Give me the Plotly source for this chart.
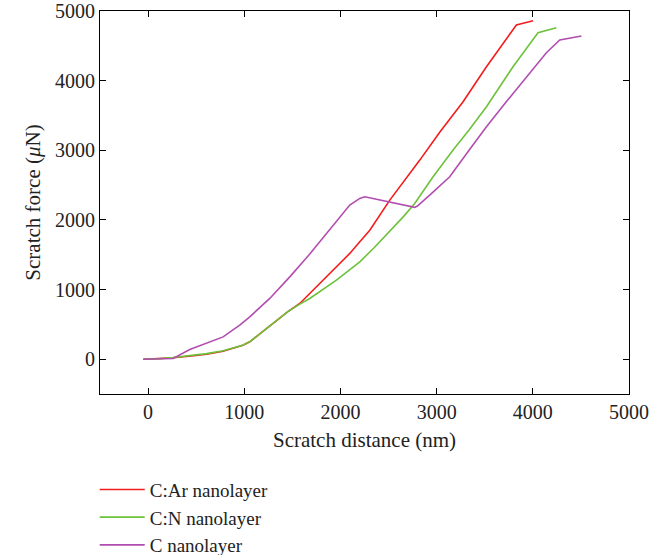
import plotly.graph_objects as go

# C:Ar nanolayer
ar_x = [-50, 100, 259, 450, 609, 780, 985, 1057, 1297, 1450, 1577, 1629, 1889, 2097, 2201, 2305, 2513, 2825, 3032, 3275, 3518, 3760, 3829, 3900, 4002]
ar_y = [0, 5, 20, 45, 72, 115, 201, 249, 517, 680, 800, 872, 1231, 1519, 1685, 1853, 2284, 2859, 3260, 3697, 4200, 4679, 4799, 4825, 4861]

# C:N nanolayer
cn_x = [-50, 100, 259, 450, 609, 780, 985, 1057, 1297, 1450, 1577, 1681, 1958, 2201, 2350, 2495, 2650, 2772, 2963, 3171, 3337, 3518, 3794, 4054, 4150, 4245]
cn_y = [0, 5, 25, 50, 80, 120, 201, 249, 517, 680, 790, 872, 1135, 1398, 1600, 1806, 2040, 2237, 2619, 3003, 3290, 3625, 4200, 4688, 4725, 4760]

# C nanolayer
c_x = [-50, 100, 260, 433, 641, 780, 953, 1057, 1265, 1473, 1681, 1889, 2097, 2201, 2253, 2772, 2800, 2928, 3136, 3337, 3518, 3726, 3968, 4141, 4280, 4400, 4505]
c_y = [0, 5, 10, 139, 249, 320, 489, 608, 872, 1182, 1509, 1853, 2213, 2309, 2332, 2180, 2200, 2356, 2619, 3000, 3338, 3700, 4105, 4400, 4583, 4615, 4641]

names = ["C:Ar nanolayer", "C:N nanolayer", "C nanolayer"]
colors = ["#f21c1c", "#6cc23a", "#b24db0"]

font = "Liberation Serif"
fig = go.Figure()
for xs, ys, n, c in zip([ar_x, cn_x, c_x], [ar_y, cn_y, c_y], names, colors):
    fig.add_trace(go.Scatter(x=xs, y=ys, mode="lines", name=n,
                             line=dict(color=c, width=1.6)))

axis_common = dict(showline=True, linecolor="black", linewidth=1.2, mirror="ticks",
                   ticks="inside", ticklen=6, tickcolor="black", showgrid=False,
                   zeroline=False, tickfont=dict(family=font, size=20, color="#222"))
fig.update_xaxes(range=[-500, 5000], tickvals=[0, 1000, 2000, 3000, 4000, 5000],
                 title=dict(text="Scratch distance (nm)", font=dict(family=font, size=21, color="#222"), standoff=10),
                 **axis_common)
fig.update_yaxes(range=[-500, 5000], tickvals=[0, 1000, 2000, 3000, 4000, 5000],
                 title=dict(text="Scratch force (<i>μ</i>N)", font=dict(family=font, size=21, color="#222"), standoff=8),
                 **axis_common)
fig.update_layout(
    width=656, height=555,
    margin=dict(l=100, r=27, t=11, b=161, autoexpand=False),
    paper_bgcolor="white", plot_bgcolor="white",
    legend=dict(x=-0.01, y=-0.2, xanchor="left", yanchor="top",
                font=dict(family=font, size=19, color="#222"), tracegroupgap=0,
                itemwidth=45, bgcolor="rgba(0,0,0,0)"),
    showlegend=True,
)
fig.write_html("out.html")
